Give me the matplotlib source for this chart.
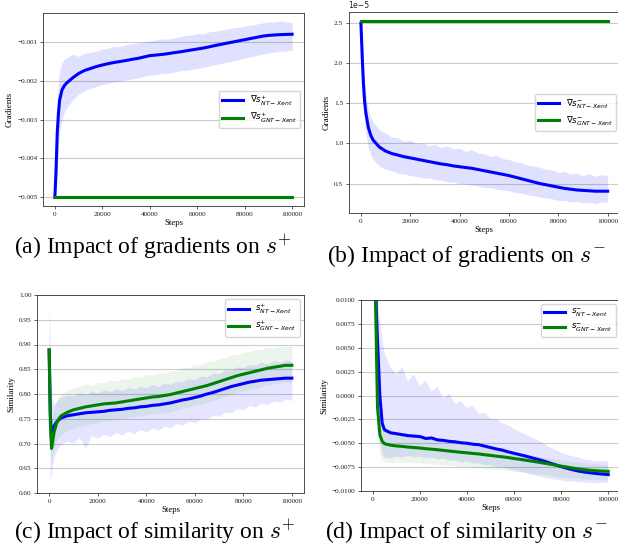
import matplotlib
matplotlib.use("Agg")
import matplotlib.pyplot as plt
import numpy as np

plt.rcParams['font.family'] = ['Liberation Serif', 'DejaVu Sans']
plt.rcParams['axes.unicode_minus'] = True

# ---------------- data ----------------
STEPS = [0, 500, 1000, 1500, 2000, 3000, 4000, 5000, 7500, 10000, 12500, 15000, 17500,
         20000, 22500, 25000, 27500, 30000, 32500, 35000, 37500, 40000, 42500, 45000,
         47500, 50000, 52500, 55000, 57500, 60000, 62500, 65000, 67500, 70000, 72500,
         75000, 77500, 80000, 82500, 85000, 87500, 90000, 92500, 95000, 97500, 100000]

# (a) gradient on s+ (units of 1e-3)
A_NT_MEAN = [-5.0, -4.3, -3.35, -2.85, -2.5, -2.24, -2.13, -2.06, -1.93, -1.82, -1.74, -1.69, -1.64,
             -1.60, -1.565, -1.535, -1.51, -1.485, -1.455, -1.43, -1.395, -1.36, -1.345, -1.33,
             -1.31, -1.285, -1.265, -1.24, -1.215, -1.19, -1.165, -1.135, -1.10, -1.07, -1.04,
             -1.01, -0.98, -0.95, -0.92, -0.89, -0.86, -0.84, -0.83, -0.82, -0.815, -0.81]
A_NT_UP = [-5.0, -3.7, -2.5, -2.0, -1.75, -1.55, -1.45, -1.42, -1.32, -1.38, -1.30, -1.28, -1.24,
           -1.19, -1.17, -1.12, -1.13, -1.08, -1.06, -1.03, -1.01, -0.98, -0.96, -0.93,
           -0.94, -0.90, -0.88, -0.84, -0.83, -0.79, -0.80, -0.75, -0.73, -0.70, -0.68,
           -0.65, -0.63, -0.60, -0.58, -0.55, -0.52, -0.49, -0.50, -0.47, -0.49, -0.51]
A_NT_LO = [-5.0, -4.9, -4.3, -3.7, -3.3, -3.0, -2.8, -2.7, -2.5, -2.35, -2.26, -2.20, -2.15,
           -2.10, -2.07, -2.03, -2.02, -1.98, -1.96, -1.93, -1.89, -1.86, -1.85, -1.82,
           -1.81, -1.78, -1.75, -1.74, -1.71, -1.69, -1.66, -1.63, -1.59, -1.56, -1.53,
           -1.49, -1.46, -1.42, -1.39, -1.35, -1.32, -1.29, -1.27, -1.25, -1.24, -1.22]
A_GNT_STEPS = [0, 100000]
A_GNT_MEAN = [-5.0, -5.0]

# (b) gradient on s- (units of 1e-5)
B_NT_MEAN = [2.50, 2.10, 1.75, 1.52, 1.38, 1.20, 1.10, 1.04, 0.955, 0.905, 0.875, 0.855, 0.835,
             0.82, 0.805, 0.79, 0.775, 0.76, 0.745, 0.735, 0.72, 0.71, 0.70, 0.69,
             0.675, 0.66, 0.645, 0.63, 0.615, 0.60, 0.58, 0.56, 0.54, 0.52, 0.50,
             0.485, 0.47, 0.455, 0.44, 0.43, 0.42, 0.415, 0.41, 0.405, 0.405, 0.405]
B_NT_UP = [2.5, 2.3, 2.0, 1.78, 1.62, 1.42, 1.33, 1.27, 1.17, 1.13, 1.08, 1.07, 1.03,
           1.04, 1.00, 1.01, 0.97, 0.99, 0.95, 0.97, 0.93, 0.94, 0.90, 0.92,
           0.88, 0.87, 0.84, 0.85, 0.81, 0.80, 0.77, 0.76, 0.73, 0.72, 0.70,
           0.68, 0.67, 0.64, 0.65, 0.62, 0.63, 0.60, 0.62, 0.59, 0.61, 0.60]
B_NT_LO = [2.5, 1.9, 1.5, 1.25, 1.12, 0.95, 0.85, 0.80, 0.72, 0.68, 0.66, 0.63, 0.62,
           0.60, 0.59, 0.57, 0.57, 0.55, 0.54, 0.52, 0.52, 0.50, 0.49, 0.48,
           0.47, 0.45, 0.45, 0.43, 0.42, 0.41, 0.39, 0.38, 0.36, 0.35, 0.33,
           0.32, 0.31, 0.29, 0.29, 0.27, 0.28, 0.26, 0.27, 0.25, 0.27, 0.27]
B_GNT_STEPS = [0, 100000]
B_GNT_MEAN = [2.525, 2.525]

# (c) similarity s+
C_NT_MEAN = [0.889, 0.76, 0.705, 0.722, 0.735, 0.743, 0.748, 0.752, 0.756, 0.758, 0.760, 0.762, 0.763,
             0.764, 0.765, 0.767, 0.768, 0.769, 0.771, 0.772, 0.774, 0.775, 0.777, 0.778,
             0.780, 0.782, 0.785, 0.788, 0.790, 0.793, 0.796, 0.800, 0.803, 0.807, 0.811,
             0.815, 0.818, 0.821, 0.824, 0.826, 0.828, 0.829, 0.830, 0.831, 0.832, 0.832]
C_NT_UP = [0.990, 0.900, 0.790, 0.785, 0.780, 0.785, 0.790, 0.793, 0.798, 0.796, 0.804, 0.799, 0.806,
           0.802, 0.808, 0.805, 0.811, 0.807, 0.813, 0.810, 0.816, 0.812, 0.819, 0.815,
           0.822, 0.820, 0.826, 0.824, 0.831, 0.829, 0.836, 0.835, 0.842, 0.841, 0.849,
           0.848, 0.855, 0.853, 0.860, 0.858, 0.864, 0.861, 0.867, 0.864, 0.869, 0.866]
C_NT_LO = [0.860, 0.620, 0.640, 0.660, 0.672, 0.685, 0.692, 0.698, 0.705, 0.701, 0.712, 0.690, 0.716,
           0.710, 0.719, 0.714, 0.722, 0.717, 0.725, 0.720, 0.728, 0.724, 0.731, 0.727,
           0.735, 0.732, 0.740, 0.737, 0.745, 0.742, 0.750, 0.748, 0.757, 0.755, 0.764,
           0.762, 0.771, 0.768, 0.777, 0.774, 0.782, 0.779, 0.786, 0.783, 0.790, 0.787]
C_GNT_MEAN = [0.889, 0.74, 0.690, 0.705, 0.722, 0.740, 0.750, 0.756, 0.763, 0.768, 0.771, 0.774, 0.776,
              0.778, 0.780, 0.781, 0.782, 0.784, 0.786, 0.788, 0.790, 0.792, 0.794, 0.795,
              0.797, 0.799, 0.802, 0.805, 0.808, 0.811, 0.814, 0.817, 0.821, 0.825, 0.829,
              0.833, 0.837, 0.840, 0.843, 0.846, 0.849, 0.852, 0.854, 0.856, 0.858, 0.858]
C_GNT_UP = [0.889, 0.800, 0.745, 0.760, 0.772, 0.785, 0.795, 0.800, 0.808, 0.812, 0.816, 0.820, 0.818,
            0.824, 0.822, 0.828, 0.826, 0.831, 0.830, 0.836, 0.834, 0.840, 0.838, 0.843,
            0.842, 0.847, 0.848, 0.853, 0.853, 0.859, 0.859, 0.865, 0.866, 0.872, 0.873,
            0.879, 0.880, 0.885, 0.885, 0.890, 0.890, 0.894, 0.893, 0.897, 0.895, 0.897]
C_GNT_LO = [0.889, 0.700, 0.660, 0.675, 0.690, 0.705, 0.712, 0.718, 0.726, 0.730, 0.734, 0.737, 0.740,
            0.742, 0.745, 0.746, 0.748, 0.750, 0.752, 0.754, 0.756, 0.758, 0.760, 0.761,
            0.763, 0.765, 0.768, 0.771, 0.774, 0.777, 0.780, 0.783, 0.787, 0.791, 0.795,
            0.799, 0.803, 0.806, 0.809, 0.812, 0.815, 0.818, 0.820, 0.822, 0.824, 0.824]

# (d) similarity s- (units of 1e-3)
D_NT_MEAN = [60.0, 30.0, 15.0, 9.0, 5.8, 0.0, -2.9, -3.6, -3.9, -4.0, -4.1, -4.2, -4.25,
             -4.3, -4.5, -4.45, -4.65, -4.7, -4.8, -4.85, -4.95, -5.0, -5.1, -5.15,
             -5.3, -5.45, -5.6, -5.72, -5.9, -6.05, -6.2, -6.35, -6.52, -6.68, -6.85,
             -7.05, -7.25, -7.45, -7.62, -7.78, -7.92, -8.02, -8.1, -8.17, -8.23, -8.28]
D_NT_UP = [60.0, 40.0, 25.0, 16.0, 11.0, 8.0, 6.0, 4.5, 3.0, 2.2, 3.0, 1.5, 2.2,
           1.0, 1.6, 0.4, 0.9, -0.3, 0.2, -0.9, -0.6, -1.3, -1.1, -1.9,
           -1.8, -2.4, -2.5, -2.9, -3.1, -3.5, -3.8, -4.1, -4.4, -4.7, -5.0,
           -5.4, -5.7, -6.0, -6.2, -6.4, -6.5, -6.7, -6.8, -6.9, -6.85, -6.95]
D_NT_LO = [60.0, 20.0, 8.0, 3.0, -1.5, -4.5, -6.0, -6.5, -6.6, -6.4, -6.5, -6.3, -6.5,
           -6.4, -6.6, -6.5, -6.7, -6.6, -6.8, -6.8, -7.0, -6.9, -7.1, -7.1,
           -7.3, -7.3, -7.5, -7.5, -7.7, -7.8, -8.0, -8.1, -8.3, -8.4, -8.6,
           -8.7, -8.8, -8.9, -9.0, -9.0, -9.1, -9.1, -9.1, -9.2, -9.1, -9.2]
D_GNT_MEAN = [50.0, 25.0, 12.0, 5.5, -1.2, -4.1, -4.8, -5.05, -5.2, -5.28, -5.33, -5.4, -5.45,
              -5.5, -5.57, -5.62, -5.68, -5.75, -5.82, -5.88, -5.95, -6.0, -6.07, -6.12,
              -6.2, -6.27, -6.35, -6.42, -6.5, -6.6, -6.68, -6.78, -6.87, -6.97, -7.07,
              -7.18, -7.28, -7.4, -7.5, -7.6, -7.7, -7.77, -7.83, -7.88, -7.92, -7.94]
D_GNT_UP = [50.0, 30.0, 18.0, 10.0, 3.0, -2.0, -3.0, -3.5, -3.8, -4.0, -4.1, -4.2, -4.3,
            -4.3, -4.5, -4.5, -4.7, -4.7, -4.9, -4.9, -5.1, -5.1, -5.3, -5.3,
            -5.5, -5.5, -5.7, -5.7, -5.9, -6.0, -6.1, -6.2, -6.3, -6.4, -6.5,
            -6.6, -6.7, -6.8, -6.9, -7.0, -7.0, -7.1, -7.2, -7.2, -7.3, -7.3]
D_GNT_LO = [50.0, 20.0, 6.0, 0.0, -4.0, -6.0, -6.8, -7.0, -7.1, -7.0, -7.1, -7.0, -7.1,
            -7.1, -7.2, -7.2, -7.3, -7.3, -7.4, -7.4, -7.5, -7.5, -7.6, -7.6,
            -7.7, -7.7, -7.8, -7.8, -7.9, -8.0, -8.0, -8.1, -8.2, -8.3, -8.3,
            -8.4, -8.5, -8.6, -8.6, -8.7, -8.7, -8.8, -8.8, -8.8, -8.9, -8.9]

X_TICKS = [0, 20000, 40000, 60000, 80000, 100000]
CAPTIONS = [r'(a) Impact of gradients on $s^{+}$', r'(b) Impact of gradients on $s^{-}$',
            r'(c) Impact of similarity on $s^{+}$', r'(d) Impact of similarity on $s^{-}$']
LEGENDS = [[r'$\nabla s^{+}_{NT-Xent}$', r'$\nabla s^{+}_{GNT-Xent}$'],
           [r'$\nabla s^{-}_{NT-Xent}$', r'$\nabla s^{-}_{GNT-Xent}$'],
           [r'$s^{+}_{NT-Xent}$', r'$s^{+}_{GNT-Xent}$'],
           [r'$s^{-}_{NT-Xent}$', r'$s^{-}_{GNT-Xent}$']]

# ---------------- figure ----------------
W, H = 618, 548
fig = plt.figure(figsize=(W / 100, H / 100), dpi=100)


def box(l, t, r, b):
    return [l / W, 1 - b / H, (r - l) / W, (b - t) / H]


BLUE, GREEN = 'blue', 'green'
LW = 2.2
LEG = dict(fontsize=6.3, handlelength=2.4, labelspacing=0.35, borderpad=0.35,
           handletextpad=0.7, borderaxespad=0.45)


def style(ax, ylabel):
    ax.set_xlim(-5000, 105000)
    ax.set_xticks(X_TICKS)
    ax.yaxis.grid(True, color='#cccccc', lw=0.8)
    ax.set_axisbelow(True)
    for s in ax.spines.values():
        s.set_color('#333333')
        s.set_linewidth(0.6)
    ax.tick_params(labelsize=5.2, length=2.2, width=0.5, pad=1.8, colors='#222222')
    ax.set_xlabel('Steps', fontsize=6.3, labelpad=1.5)
    ax.set_ylabel(ylabel, fontsize=6.5, labelpad=2.5)


def scale(vals, f):
    return [v * f for v in vals]


# (a)
ax = fig.add_axes(box(43, 13, 304, 206))
ax.fill_between(STEPS, scale(A_NT_LO, 1e-3), scale(A_NT_UP, 1e-3), color=BLUE, alpha=0.12, lw=0)
ax.plot(STEPS, scale(A_NT_MEAN, 1e-3), color=BLUE, lw=LW, label=LEGENDS[0][0])
ax.plot(A_GNT_STEPS, scale(A_GNT_MEAN, 1e-3), color=GREEN, lw=LW, label=LEGENDS[0][1])
ax.set_ylim(-0.00522, -0.000265)
ax.set_yticks([-0.005, -0.004, -0.003, -0.002, -0.001])
style(ax, 'Gradients')
ax.legend(loc='center right', **LEG)

# (b)
ax = fig.add_axes(box(348.6, 12, 620, 213))
ax.fill_between(STEPS, scale(B_NT_LO, 1e-5), scale(B_NT_UP, 1e-5), color=BLUE, alpha=0.12, lw=0)
ax.plot(STEPS, scale(B_NT_MEAN, 1e-5), color=BLUE, lw=LW, label=LEGENDS[1][0])
ax.plot(B_GNT_STEPS, scale(B_GNT_MEAN, 1e-5), color=GREEN, lw=LW, label=LEGENDS[1][1])
ax.set_ylim(0.133e-5, 2.64e-5)
ax.set_yticks([0.5e-5, 1.0e-5, 1.5e-5, 2.0e-5, 2.5e-5])
ax.ticklabel_format(axis='y', style='sci', scilimits=(0, 0))
style(ax, 'Gradients')
ot = ax.yaxis.get_offset_text()
ot.set_fontfamily('DejaVu Sans')
ot.set_fontsize(5.6)
ax.legend(loc='center right', **LEG)

# (c)
ax = fig.add_axes(box(37, 295, 304, 493))
ax.fill_between(STEPS, C_NT_LO, C_NT_UP, color=BLUE, alpha=0.1, lw=0)
ax.fill_between(STEPS, C_GNT_LO, C_GNT_UP, color=GREEN, alpha=0.08, lw=0)
ax.plot(STEPS, C_NT_MEAN, color=BLUE, lw=LW, label=LEGENDS[2][0])
ax.plot(STEPS, C_GNT_MEAN, color=GREEN, lw=LW, label=LEGENDS[2][1])
ax.set_ylim(0.60, 1.00)
ax.set_yticks([0.60, 0.65, 0.70, 0.75, 0.80, 0.85, 0.90, 0.95, 1.00])
style(ax, 'Similarity')
ax.legend(loc='upper right', **LEG)

# (d)
ax = fig.add_axes(box(361, 300, 620, 491))
ax.fill_between(STEPS, scale(D_NT_LO, 1e-3), scale(D_NT_UP, 1e-3), color=BLUE, alpha=0.1, lw=0)
ax.fill_between(STEPS, scale(D_GNT_LO, 1e-3), scale(D_GNT_UP, 1e-3), color=GREEN, alpha=0.08, lw=0)
ax.plot(STEPS, scale(D_NT_MEAN, 1e-3), color=BLUE, lw=LW, label=LEGENDS[3][0])
ax.plot(STEPS, scale(D_GNT_MEAN, 1e-3), color=GREEN, lw=LW, label=LEGENDS[3][1])
ax.set_ylim(-0.01, 0.01)
ax.set_yticks([-0.01, -0.0075, -0.005, -0.0025, 0.0, 0.0025, 0.005, 0.0075, 0.01])
style(ax, 'Similarity')
ax.legend(loc='upper right', **LEG)

# captions
cap_pos = [(14, 247), (327, 256), (14, 532), (325, 532)]
for (cx, cy), txt in zip(cap_pos, CAPTIONS):
    fig.text(cx / W, 1 - cy / H, txt, fontsize=17, family='Liberation Serif',
             math_fontfamily='cm', ha='left', va='center')

fig.savefig('out.png', dpi=100)
